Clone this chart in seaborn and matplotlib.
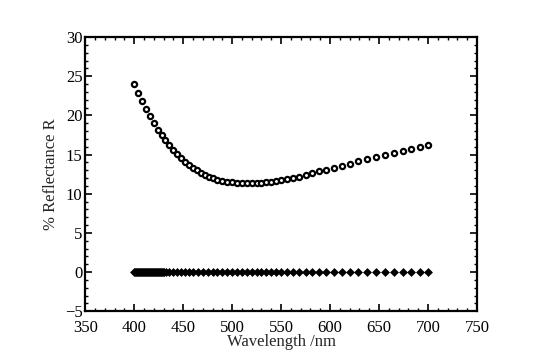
import numpy as np
import pandas as pd
import matplotlib
matplotlib.use("Agg")
import matplotlib.pyplot as plt
import seaborn as sns
from matplotlib.ticker import MultipleLocator

# Reflectance spectrum (open circles)
wl_r = [400, 404, 408, 412, 416, 420, 424, 428, 432, 436, 440, 444, 448, 452, 456,
        460, 464, 468, 472, 476, 480, 485, 490, 495, 500, 505, 510, 515, 520, 525,
        530, 535, 540, 545, 550, 556, 562, 568, 575, 582, 589, 596, 604, 612, 620,
        629, 638, 647, 656, 665, 674, 683, 692, 700]
refl = [24.0, 22.9, 21.8, 20.8, 19.9, 19.0, 18.2, 17.5, 16.8, 16.2, 15.6, 15.1, 14.6,
        14.1, 13.7, 13.3, 13.0, 12.7, 12.4, 12.2, 12.0, 11.8, 11.65, 11.55, 11.45, 11.4,
        11.4, 11.35, 11.4, 11.4, 11.4, 11.45, 11.55, 11.65, 11.75, 11.9, 12.05, 12.2,
        12.4, 12.6, 12.85, 13.05, 13.3, 13.6, 13.85, 14.15, 14.45, 14.75, 15.0, 15.25,
        15.5, 15.75, 16.0, 16.25]

# Near-zero baseline (filled diamonds)
wl_b = [400, 401, 402, 403, 404, 405, 406, 407, 408, 409, 410, 411, 412, 413, 414,
        415, 416, 417, 418, 419, 420, 421, 422, 423, 424, 425, 426, 427, 428, 429, 430,
        433, 436, 440, 444, 448, 452, 456, 460, 465, 470, 475, 480, 485, 490, 495, 500,
        505, 510, 515, 520, 525, 530, 535, 540, 545, 550, 556, 562, 568, 575, 582, 589,
        596, 604, 612, 620, 629, 638, 647, 656, 665, 674, 683, 692, 700]
base = [0.0] * len(wl_b)

df = pd.concat([
    pd.DataFrame({"wl": wl_r, "R": refl, "series": "R"}),
    pd.DataFrame({"wl": wl_b, "R": base, "series": "base"}),
])

sns.set_style("ticks")
plt.rcParams["font.family"] = ["Liberation Serif", "DejaVu Serif"]
plt.rcParams["xtick.direction"] = "in"
plt.rcParams["ytick.direction"] = "in"

fig = plt.figure(figsize=(5.39, 3.64), dpi=100)
ax = fig.add_axes([0.158, 0.145, 0.727, 0.753])

sns.scatterplot(data=df[df.series == "R"], x="wl", y="R", ax=ax, marker="o",
                s=14, facecolor="white", edgecolor="black", linewidth=1.6, legend=False)
sns.scatterplot(data=df[df.series == "base"], x="wl", y="R", ax=ax, marker="D",
                s=16, color="black", edgecolor="black", linewidth=0.5, legend=False)

ax.set_xlim(350, 750)
ax.set_ylim(-5, 30)
ax.xaxis.set_major_locator(MultipleLocator(50))
ax.xaxis.set_minor_locator(MultipleLocator(10))
ax.yaxis.set_major_locator(MultipleLocator(5))
ax.yaxis.set_minor_locator(MultipleLocator(1))
ax.tick_params(which="both", top=True, right=True, labelsize=12, colors="black")
ax.tick_params(which="major", length=5, width=1.2)
ax.tick_params(axis="x", which="major", pad=6)
ax.tick_params(axis="y", which="major", pad=2)
ax.tick_params(which="minor", length=2.5, width=1)
for sp in ax.spines.values():
    sp.set_linewidth(1.6)
    sp.set_color("black")

ax.set_xlabel("Wavelength /nm", fontsize=12, labelpad=-1)
ax.set_ylabel("% Reflectance R", fontsize=12, labelpad=4)

fig.savefig("out.png", dpi=100)
